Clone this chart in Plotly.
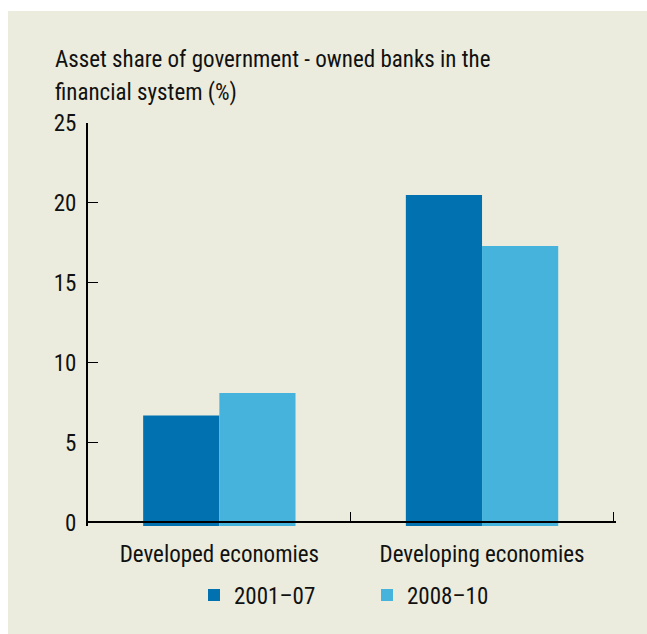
import plotly.graph_objects as go

# ---- data ----
categories = ["Developed economies", "Developing economies"]
series_names = ["2001\u201307", "2008\u201310"]
values_2001_07 = [6.7, 20.5]
values_2008_10 = [8.1, 17.3]
y_ticks = [0, 5, 10, 15, 20, 25]
title_lines = ["Asset share of government - owned banks in the", "financial system (%)"]

# ---- style ----
W, H = 647, 634
ML, MR, MT, MB = 88, 31, 123, 108
X_RANGE = [-0.5, 1.51]   # a hair past the last boundary so its tick is drawn
Y_FLOOR = -0.22          # bars extend slightly below the baseline
Y_MAX = 25
FONT = "Roboto Condensed, DejaVu Sans Condensed, sans-serif"
BG = "#EBECDD"
DARK = "#0172AF"
LIGHT = "#46B3DC"
FS = 23

pw = W - ML - MR
ph = H - MT - MB
def px_x(p):
    return (p - ML) / pw
def px_y(p):
    return (H - MB - p) / ph

fig = go.Figure()
for name, vals, col in [(series_names[0], values_2001_07, DARK),
                        (series_names[1], values_2008_10, LIGHT)]:
    fig.add_trace(go.Bar(
        x=categories, y=[v - Y_FLOOR for v in vals], base=Y_FLOOR,
        name=name, marker=dict(color=col, line=dict(width=0)),
        hoverinfo="skip",
    ))

zero_pos = (0 - Y_FLOOR) / (Y_MAX - Y_FLOOR)

fig.update_layout(
    width=W, height=H,
    margin=dict(l=ML, r=MR, t=MT, b=MB, pad=0),
    paper_bgcolor="white", plot_bgcolor=BG,
    barmode="group", bargap=0.42, bargroupgap=0,
    font=dict(family=FONT, size=FS, color="#111111"),
    showlegend=True,
    legend=dict(orientation="h", x=px_x(194), xanchor="left",
                y=px_y(595), yanchor="middle",
                bgcolor="rgba(0,0,0,0)", font=dict(size=FS),
                entrywidth=128, entrywidthmode="pixels",
                itemclick=False, itemdoubleclick=False),
    xaxis=dict(
        type="category", range=X_RANGE,
        anchor="free", position=zero_pos,
        showline=True, linecolor="black", linewidth=1.5,
        ticks="inside", ticklen=10, tickwidth=1.3, tickcolor="black",
        tickson="boundaries", showgrid=False, zeroline=False,
        ticklabelstandoff=11, tickfont=dict(size=FS),
    ),
    yaxis=dict(
        range=[Y_FLOOR, Y_MAX], tickvals=y_ticks,
        showline=True, linecolor="black", linewidth=2,
        ticks="inside", ticklen=10, tickwidth=1.3, tickcolor="black",
        showgrid=False, zeroline=False,
        ticklabelstandoff=5, tickfont=dict(size=FS),
    ),
    shapes=[dict(type="rect", xref="paper", yref="paper",
                 x0=px_x(8), x1=px_x(W + 5), y0=px_y(11), y1=px_y(H + 5),
                 fillcolor=BG, line=dict(width=0), layer="below")],
    annotations=[
        dict(text=title_lines[0], xref="paper", yref="paper",
             x=px_x(53), y=px_y(60), xanchor="left", yanchor="middle",
             showarrow=False, font=dict(size=FS)),
        dict(text=title_lines[1], xref="paper", yref="paper",
             x=px_x(53), y=px_y(92), xanchor="left", yanchor="middle",
             showarrow=False, font=dict(size=FS)),
    ],
)

fig.write_html("out.html", config={"displayModeBar": False},
               post_script="document.body.style.margin='0px';")
